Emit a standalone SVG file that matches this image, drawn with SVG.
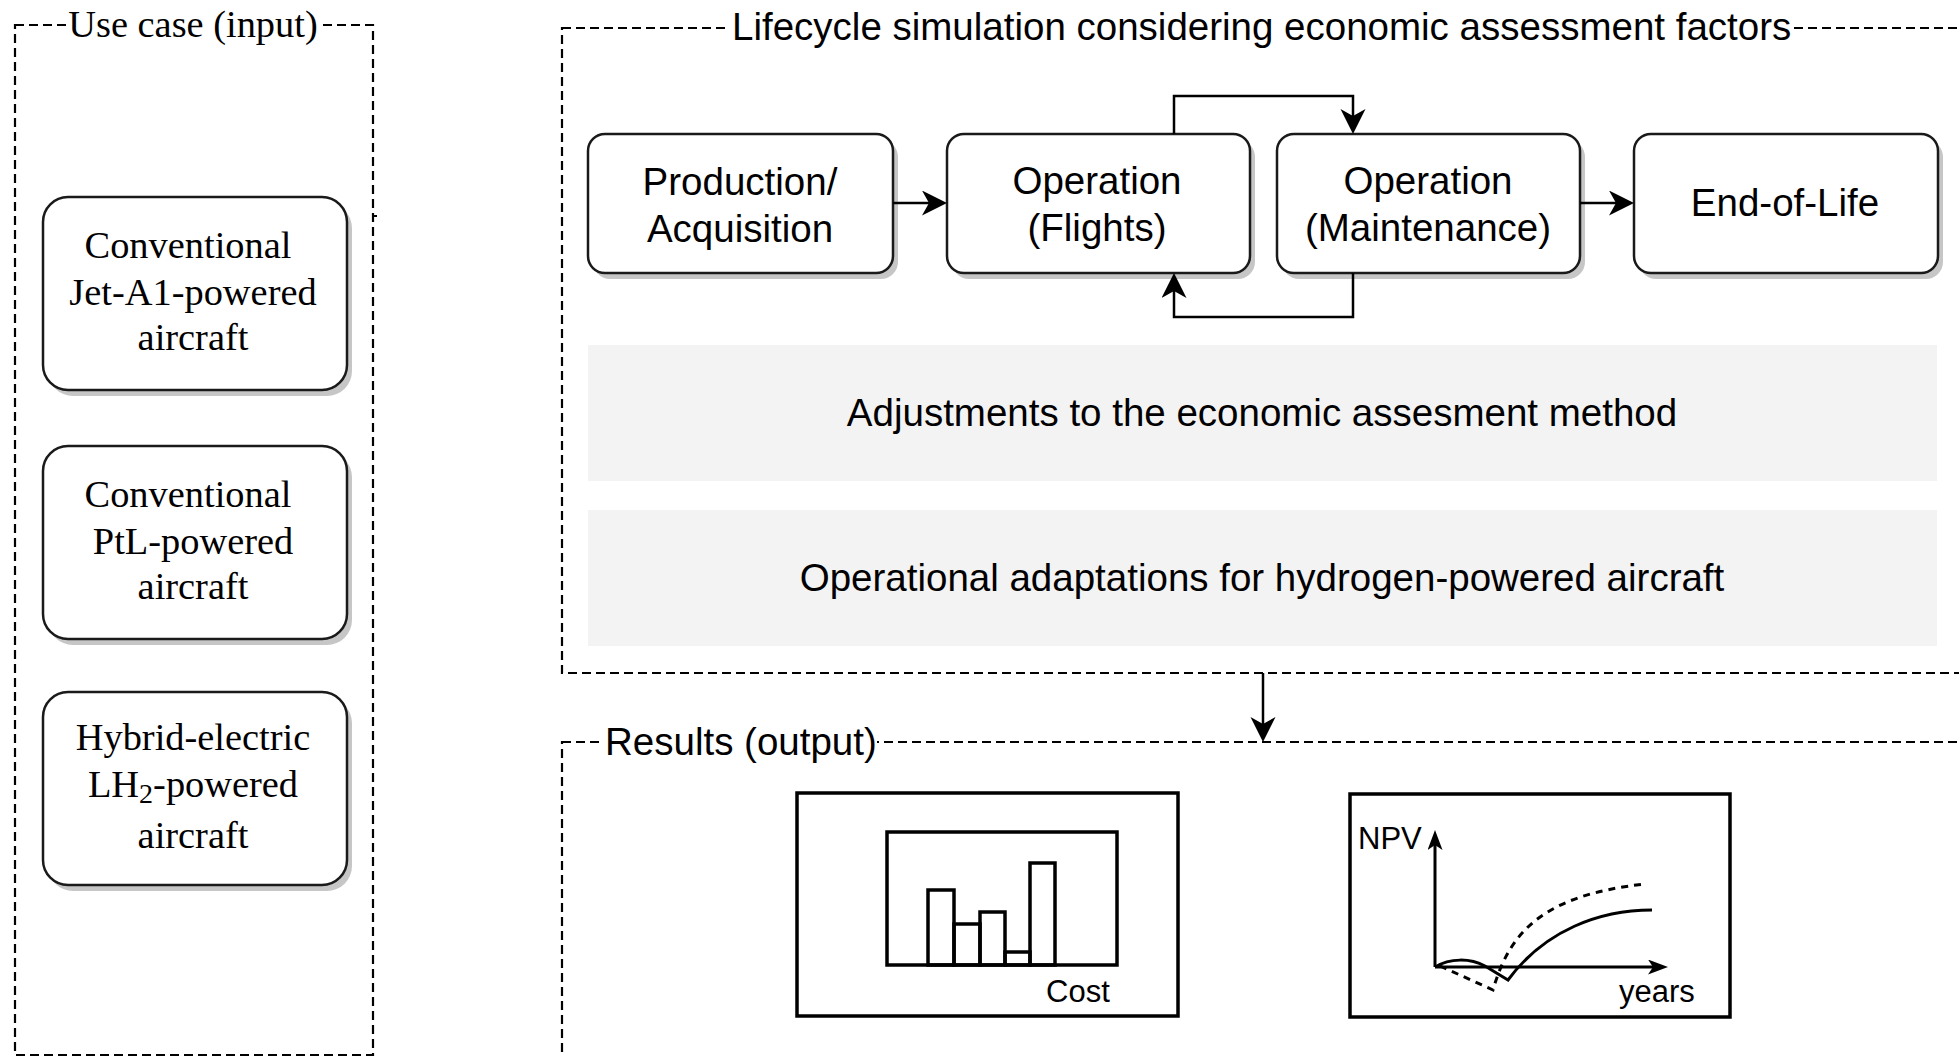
<svg xmlns="http://www.w3.org/2000/svg" width="1959" height="1057" viewBox="0 0 1959 1057">
<style>
.box{fill:#fff;stroke:#1a1a1a;stroke-width:2.5}
.shadow{fill:#c6c6c6}
.grp{fill:none;stroke:#000;stroke-width:2.2;stroke-dasharray:9 5}
.band{fill:#f3f3f3}
.sans{font-family:"Liberation Sans",Arial,Helvetica,sans-serif;font-size:38.5px;fill:#000}
.serif{font-family:"Liberation Serif","Times New Roman",serif;font-size:38.4px;fill:#000}
.conn{fill:none;stroke:#000;stroke-width:2.5}
.chart{fill:none;stroke:#000;stroke-width:3.5}
.small{font-family:"Liberation Sans",Arial,Helvetica,sans-serif;font-size:31px;fill:#000}
</style>
<defs>
<marker id="arr" markerUnits="userSpaceOnUse" markerWidth="26" markerHeight="26" refX="7" refY="12.5" orient="auto">
<path d="M0,0 L25,12.5 L0,25 L7,12.5 Z" fill="#000"/>
</marker>
<marker id="arrS" markerUnits="userSpaceOnUse" markerWidth="22" markerHeight="16" refX="5" refY="7.5" orient="auto">
<path d="M0,0 L20,7.5 L0,15 L5,7.5 Z" fill="#000"/>
</marker>
</defs>

<!-- Group containers -->
<g id="usecase-group">
<rect class="grp" x="15" y="25" width="358" height="1030"/>
<line x1="373" y1="216" x2="377" y2="216" stroke="#000" stroke-width="2"/>
<rect x="66" y="8" width="254" height="38" fill="#fff"/>
<text class="serif" x="193" y="37" text-anchor="middle">Use case (input)</text>
</g>

<g id="lifecycle-group">
<rect class="grp" x="562" y="28" width="1400" height="645"/>
<rect x="730" y="10" width="1064" height="38" fill="#fff"/>
<text class="sans" x="732" y="40">Lifecycle simulation considering economic assessment factors</text>
</g>

<g id="results-group">
<rect class="grp" x="562" y="742" width="1400" height="330"/>
<rect x="603" y="724" width="274" height="38" fill="#fff"/>
<text class="sans" x="605" y="755">Results (output)</text>
</g>

<!-- Use case nodes -->
<g id="jet-a1">
<rect class="shadow" x="48" y="203" width="304" height="193" rx="25"/>
<rect class="box" x="43" y="197" width="304" height="193" rx="25"/>
<text class="serif" text-anchor="middle"><tspan x="188" y="258">Conventional</tspan><tspan x="193" y="305">Jet-A1-powered</tspan><tspan x="193" y="350">aircraft</tspan></text>
</g>
<g id="ptl">
<rect class="shadow" x="48" y="452" width="304" height="193" rx="25"/>
<rect class="box" x="43" y="446" width="304" height="193" rx="25"/>
<text class="serif" text-anchor="middle"><tspan x="188" y="507">Conventional</tspan><tspan x="193" y="554">PtL-powered</tspan><tspan x="193" y="599">aircraft</tspan></text>
</g>
<g id="lh2">
<rect class="shadow" x="48" y="698" width="304" height="193" rx="25"/>
<rect class="box" x="43" y="692" width="304" height="193" rx="25"/>
<text class="serif" text-anchor="middle"><tspan x="193" y="750">Hybrid-electric</tspan><tspan x="193" y="797">LH<tspan font-size="28" dy="6">2</tspan><tspan dy="-6">-powered</tspan></tspan><tspan x="193" y="848">aircraft</tspan></text>
</g>

<!-- Lifecycle nodes -->
<g id="production">
<rect class="shadow" x="593" y="140" width="305" height="139" rx="17"/>
<rect class="box" x="588" y="134" width="305" height="139" rx="17"/>
<text class="sans" text-anchor="middle"><tspan x="740" y="195">Production/</tspan><tspan x="740" y="242">Acquisition</tspan></text>
</g>
<g id="flights">
<rect class="shadow" x="952" y="140" width="303" height="139" rx="17"/>
<rect class="box" x="947" y="134" width="303" height="139" rx="17"/>
<text class="sans" text-anchor="middle"><tspan x="1097" y="194">Operation</tspan><tspan x="1097" y="241">(Flights)</tspan></text>
</g>
<g id="maintenance">
<rect class="shadow" x="1282" y="140" width="303" height="139" rx="17"/>
<rect class="box" x="1277" y="134" width="303" height="139" rx="17"/>
<text class="sans" text-anchor="middle"><tspan x="1428" y="194">Operation</tspan><tspan x="1428" y="241">(Maintenance)</tspan></text>
</g>
<g id="end-of-life">
<rect class="shadow" x="1639" y="140" width="304" height="139" rx="17"/>
<rect class="box" x="1634" y="134" width="304" height="139" rx="17"/>
<text class="sans" x="1785" y="216" text-anchor="middle">End-of-Life</text>
</g>

<g id="adjustments">
<rect class="band" x="588" y="345" width="1349" height="136"/>
<text class="sans" x="1262" y="426" text-anchor="middle">Adjustments to the economic assesment method</text>
</g>
<g id="adaptations">
<rect class="band" x="588" y="510" width="1349" height="136"/>
<text class="sans" x="1262" y="591" text-anchor="middle">Operational adaptations for hydrogen-powered aircraft</text>
</g>

<!-- Connectors -->
<g id="connectors">
<line class="conn" x1="893" y1="203" x2="929" y2="203" marker-end="url(#arr)"/>
<line class="conn" x1="1580" y1="203" x2="1616" y2="203" marker-end="url(#arr)"/>
<polyline class="conn" points="1174,134 1174,96 1353,96 1353,116" marker-end="url(#arr)"/>
<polyline class="conn" points="1353,273 1353,317 1174,317 1174,291" marker-end="url(#arr)"/>
<line class="conn" x1="1263" y1="673" x2="1263" y2="724" marker-end="url(#arr)"/>
</g>

<!-- Result charts -->
<g id="cost-chart">
<rect class="chart" x="797" y="793" width="381" height="223"/>
<rect class="chart" x="887" y="832" width="230" height="133"/>
<rect class="chart" x="928" y="890" width="26" height="75"/>
<rect class="chart" x="954" y="924" width="26" height="41"/>
<rect class="chart" x="980" y="912" width="25" height="53"/>
<rect class="chart" x="1005" y="952" width="25" height="13"/>
<rect class="chart" x="1030" y="863" width="25" height="102"/>
<text class="small" x="1046" y="1002" font-size="32">Cost</text>
</g>
<g id="npv-chart">
<rect class="chart" x="1350" y="794" width="380" height="223"/>
<line x1="1435" y1="967" x2="1435" y2="845" stroke="#000" stroke-width="3" marker-end="url(#arrS)"/>
<line x1="1435" y1="967" x2="1653" y2="967" stroke="#000" stroke-width="3" marker-end="url(#arrS)"/>
<path d="M1435,967 C1450,958 1470,958 1485,966 L1508,980 C1545,930 1600,910 1652,910" fill="none" stroke="#000" stroke-width="3"/>
<path d="M1440,966 L1493,990 C1510,930 1545,895 1645,884" fill="none" stroke="#000" stroke-width="3" stroke-dasharray="7 6"/>
<text class="small" x="1358" y="849" font-size="33">NPV</text>
<text class="small" x="1619" y="1002" font-size="33">years</text>
</g>
</svg>
